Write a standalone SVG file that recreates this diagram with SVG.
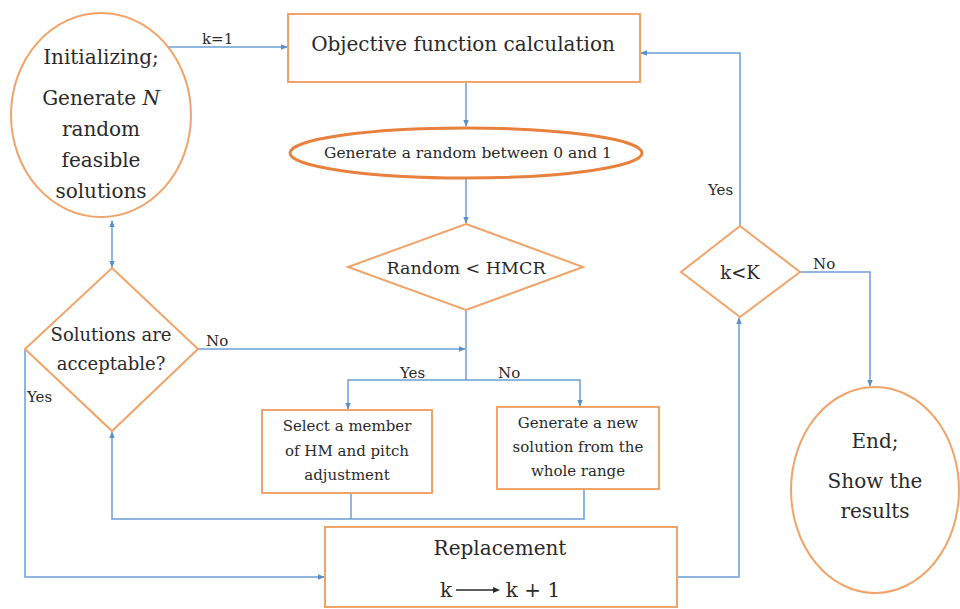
<svg xmlns="http://www.w3.org/2000/svg" width="960" height="609" viewBox="0 0 960 609">
<defs>
<style>
.shape{fill:#fff;stroke:#F0A46A;stroke-width:2}
.thick{fill:#fff;stroke:#E8803E;stroke-width:3}
.conn{fill:none;stroke:#6A9FD6;stroke-width:1.5}
text{font-family:"DejaVu Serif","Liberation Serif",serif;fill:#2a2a2a;text-anchor:middle}
.lbl{font-size:15px;text-anchor:start}
</style>
<marker id="arr" viewBox="0 0 10 10" refX="9" refY="5" markerWidth="7" markerHeight="7" orient="auto-start-reverse" markerUnits="userSpaceOnUse">
<path d="M0,1 L10,5 L0,9 z" fill="#5B8FC8"/>
</marker>
</defs>
<rect width="960" height="609" fill="#fff"/>

<g id="connectors">
<line class="conn" x1="168" y1="47" x2="287" y2="47" marker-end="url(#arr)"/>
<line class="conn" x1="466" y1="82" x2="466" y2="126" marker-end="url(#arr)"/>
<line class="conn" x1="466" y1="179" x2="466" y2="223" marker-end="url(#arr)"/>
<polyline class="conn" points="466,310 466,380"/>
<polyline class="conn" points="466,380 348,380 348,409" marker-end="url(#arr)"/>
<polyline class="conn" points="466,380 580,380 580,406" marker-end="url(#arr)"/>
<line class="conn" x1="198" y1="349" x2="465" y2="349" marker-end="url(#arr)"/>
<line class="conn" x1="112" y1="221" x2="112" y2="267" marker-start="url(#arr)" marker-end="url(#arr)"/>
<polyline class="conn" points="351,493 351,519"/>
<polyline class="conn" points="584,489 584,519 112,519 112,432" marker-end="url(#arr)"/>
<polyline class="conn" points="25,349 25,577 324,577" marker-end="url(#arr)"/>
<polyline class="conn" points="677,577 739,577 739,318" marker-end="url(#arr)"/>
<polyline class="conn" points="740,226 740,53 641,53" marker-end="url(#arr)"/>
<polyline class="conn" points="800,272 870,272 870,386" marker-end="url(#arr)"/>
<text class="lbl" x="202" y="44">k=1</text>
<text class="lbl" x="206" y="346">No</text>
<text class="lbl" x="27" y="402">Yes</text>
<text class="lbl" x="400" y="378">Yes</text>
<text class="lbl" x="498" y="378">No</text>
<text class="lbl" x="708" y="195">Yes</text>
<text class="lbl" x="813" y="269">No</text>
</g>

<g id="init">
<ellipse class="shape" cx="101" cy="115" rx="90" ry="102"/>
<text x="101" y="64" font-size="20">Initializing;</text>
<text x="101" y="105" font-size="20">Generate <tspan font-style="italic">N</tspan></text>
<text x="101" y="136" font-size="20">random</text>
<text x="101" y="167" font-size="20">feasible</text>
<text x="101" y="198" font-size="20">solutions</text>
</g>

<g id="objective">
<rect class="shape" x="288" y="14" width="352" height="68"/>
<text x="463" y="51" font-size="20">Objective function calculation</text>
</g>

<g id="random">
<ellipse class="thick" cx="466" cy="153" rx="176" ry="25"/>
<text x="468" y="158" font-size="15.5">Generate a random between 0 and 1</text>
</g>

<g id="hmcr">
<polygon class="shape" points="466,224 583,267 466,310 348,267"/>
<text x="466" y="274" font-size="17.5">Random &lt; HMCR</text>
</g>

<g id="acceptable">
<polygon class="shape" points="112,268 198,349 112,431 25,349"/>
<text x="111" y="341" font-size="18">Solutions are</text>
<text x="111" y="370" font-size="18">acceptable?</text>
</g>

<g id="select">
<rect class="shape" x="262" y="410" width="170" height="83"/>
<text x="347" y="431" font-size="15">Select a member</text>
<text x="347" y="456" font-size="15">of HM and pitch</text>
<text x="347" y="480" font-size="15">adjustment</text>
</g>

<g id="newsol">
<rect class="shape" x="497" y="407" width="162" height="82"/>
<text x="578" y="428" font-size="15">Generate a new</text>
<text x="578" y="452" font-size="15">solution from the</text>
<text x="578" y="476" font-size="15">whole range</text>
</g>

<g id="replacement">
<rect class="shape" x="325" y="527" width="352" height="80"/>
<text x="500" y="555" font-size="20">Replacement</text>
<text x="446" y="597" font-size="20">k</text>
<line x1="456" y1="590" x2="496" y2="590" stroke="#2a2a2a" stroke-width="1.3"/>
<path d="M493,587 L500,590 L493,593 z" fill="#2a2a2a"/>
<text x="533" y="597" font-size="20">k + 1</text>
</g>

<g id="kK">
<polygon class="shape" points="740,226 800,272 740,317 681,272"/>
<text x="740" y="279" font-size="18">k&lt;K</text>
</g>

<g id="end">
<ellipse class="shape" cx="875" cy="490" rx="84" ry="103"/>
<text x="875" y="448" font-size="20">End;</text>
<text x="875" y="488" font-size="20">Show the</text>
<text x="875" y="518" font-size="20">results</text>
</g>
</svg>
